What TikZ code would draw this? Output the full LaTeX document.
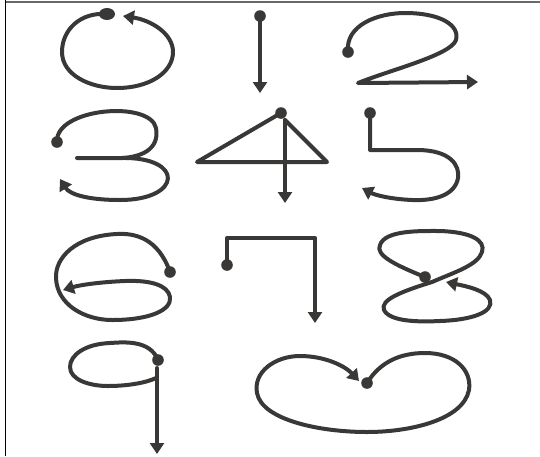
\documentclass[tikz,border=0pt]{standalone}
\usepackage{tikz}
\usetikzlibrary{arrows.meta}
\definecolor{ink}{RGB}{58,56,54}
\definecolor{edgegrey}{RGB}{105,105,105}

\begin{document}
\begin{tikzpicture}[
  x=1pt,y=-1pt,
  pen/.style={draw=ink,line width=4pt,line cap=round,line join=round},
  arr/.style={pen,-{Triangle[length=11pt,width=14pt]}},
  blob/.style={fill=ink}]
\useasboundingbox (0,0) rectangle (540,456);
% frame of the scan
\draw[black,line width=1.6pt] (5.5,0) -- (5.5,456);
\draw[edgegrey,line width=1.4pt] (5.5,2) -- (540,2);
% start points
\coordinate (s0) at (107,14);
\coordinate (s1) at (260,16);
\coordinate (s2) at (348,52);
\coordinate (s3) at (57,142);
\coordinate (s4) at (281,113);
\coordinate (s5) at (370,113);
\coordinate (s6) at (170,272);
\coordinate (s7) at (227,265);
\coordinate (s8) at (425,277);
\coordinate (s9) at (158,360);
\coordinate (sh) at (367,383);
% zero
\draw[arr] (s0) .. controls (80,12) and (62,30) .. (62,52)
  .. controls (62,75) and (90,88) .. (117,88)
  .. controls (150,88) and (173,72) .. (173,52)
  .. controls (173,33) and (150,20) .. (123,16);
% one
\draw[arr] (s1) -- (260,93);
% two
\draw[arr] (s2) .. controls (345,25) and (378,13) .. (405,13)
  .. controls (440,13) and (460,25) .. (456,40)
  .. controls (451,55) and (390,70) .. (358,83) -- (478,82);
% three
\draw[pen] (s3) .. controls (55,108) and (150,100) .. (156,128)
  .. controls (160,150) and (140,157) .. (122,158) -- (77,158);
\draw[arr] (122,158) .. controls (185,157) and (182,200) .. (120,200)
  .. controls (90,200) and (70,195) .. (60,179);
% four
\draw[pen] (s4) -- (197,162) -- (327,162) -- (285,120);
\draw[arr] (285,120) -- (285,203);
% five
\draw[arr] (s5) -- (370,150) -- (417,150)
  .. controls (450,150) and (460,165) .. (458,178)
  .. controls (455,195) and (435,201) .. (412,200)
  .. controls (390,199) and (375,195) .. (362,188);
% six
\draw[arr] (s6) .. controls (158,238) and (135,233) .. (117,234)
  .. controls (75,236) and (55,258) .. (56,278)
  .. controls (57,305) and (85,320) .. (112,320)
  .. controls (150,320) and (172,310) .. (170,297)
  .. controls (168,285) and (150,280) .. (125,281)
  .. controls (100,282) and (80,285) .. (63,290);
% seven
\draw[arr] (s7) -- (227,238) -- (315,238) -- (315,323);
% eight
\draw[arr] (s8) .. controls (395,265) and (375,255) .. (380,245)
  .. controls (385,230) and (420,231) .. (440,231)
  .. controls (470,232) and (486,240) .. (482,252)
  .. controls (478,265) and (455,272) .. (432,282)
  .. controls (400,292) and (380,300) .. (384,310)
  .. controls (390,322) and (420,322) .. (440,321)
  .. controls (472,320) and (494,312) .. (490,300)
  .. controls (486,290) and (465,286) .. (446,282);
% nine
\draw[pen] (s9) .. controls (150,340) and (125,342) .. (110,343)
  .. controls (85,344) and (70,355) .. (70,367)
  .. controls (70,380) and (90,386) .. (108,386)
  .. controls (130,386) and (148,382) .. (156,378);
\draw[arr] (157,368) -- (157,454);
% heart
\draw[arr] (sh) .. controls (380,362) and (400,353) .. (425,353)
  .. controls (455,353) and (472,370) .. (469,390)
  .. controls (463,420) and (410,432) .. (367,432)
  .. controls (320,432) and (262,420) .. (257,393)
  .. controls (253,372) and (275,356) .. (300,356)
  .. controls (325,356) and (345,366) .. (359,381);
% start dots
\fill[blob] (s0) ellipse (8 and 6);
\foreach \p in {s1,s2,s3,s4,s5,s6,s7,s8,s9,sh}
  \fill[blob] (\p) circle (5.8);
\end{tikzpicture}
\end{document}
